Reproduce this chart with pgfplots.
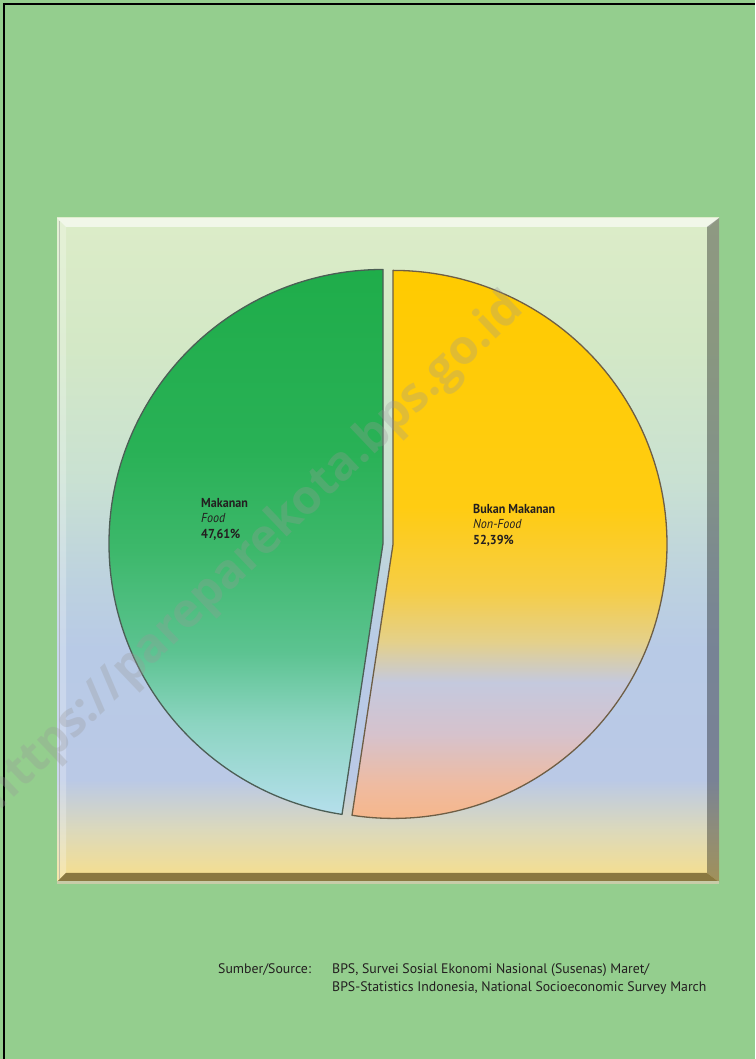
\documentclass[border=0pt]{standalone}
\usepackage{pgfplots}
\pgfplotsset{compat=1.18}
\usepackage{pgfplotstable}
\usepackage{fontspec}
\setmainfont{PT Sans}
\newfontfamily\condfont[FakeStretch=0.93]{PT Sans}
\newfontfamily\wmfont{Open Sans}

\definecolor{bg}{HTML}{94CE8E}
\definecolor{txt}{HTML}{231F20}
\definecolor{bevbot}{HTML}{8A7840}
\definecolor{bevline}{HTML}{C8CCA8}
\definecolor{edgeG}{HTML}{4C5E55}
\definecolor{edgeY}{HTML}{6E5E45}
% panel gradient
\definecolor{p0}{HTML}{DCECC8}
\definecolor{p1}{HTML}{D3E8C6}
\definecolor{p2}{HTML}{C9E1D2}
\definecolor{p3}{HTML}{BDD2DF}
\definecolor{p4}{HTML}{B8CAE6}
\definecolor{p5}{HTML}{BAC9E6}
\definecolor{p6}{HTML}{DCD9BB}
\definecolor{p7}{HTML}{F8DF8A}
% green wedge
\definecolor{g0}{HTML}{1FAD4A}
\definecolor{g1}{HTML}{29B156}
\definecolor{g2}{HTML}{3DB86B}
\definecolor{g3}{HTML}{5CC391}
\definecolor{g4}{HTML}{8BD4C0}
\definecolor{g5}{HTML}{B5DFEC}
% yellow wedge
\definecolor{y0}{HTML}{FFCB00}
\definecolor{y1}{HTML}{FFCC12}
\definecolor{y2}{HTML}{F6CD45}
\definecolor{y3}{HTML}{E4D08A}
\definecolor{y4}{HTML}{C4C9DE}
\definecolor{y5}{HTML}{D6C2CC}
\definecolor{y6}{HTML}{EFBBA0}
\definecolor{y7}{HTML}{FAB47E}

\pgfdeclareverticalshading{panelgrad}{100bp}{color(0bp)=(p7); color(25bp)=(p7);
 color(28.9bp)=(p6); color(32.7bp)=(p5); color(42.5bp)=(p4); color(47.7bp)=(p3);
 color(55.3bp)=(p2); color(65.1bp)=(p1); color(75bp)=(p0); color(100bp)=(p0)}
\pgfdeclareverticalshading{greenpie}{100bp}{color(0bp)=(g5); color(25bp)=(g5);
 color(33.5bp)=(g4); color(39.9bp)=(g3); color(49.2bp)=(g2); color(58.4bp)=(g1);
 color(75bp)=(g0); color(100bp)=(g0)}
\pgfdeclareverticalshading{yellowpie}{100bp}{color(0bp)=(y7); color(25bp)=(y7);
 color(29.6bp)=(y6); color(34.1bp)=(y5); color(38.7bp)=(y4); color(42.3bp)=(y3);
 color(46.9bp)=(y2); color(54.2bp)=(y1); color(75bp)=(y0); color(100bp)=(y0)}

\pgfplotstableread{
label value
Makanan 47.61
BukanMakanan 52.39
}\piedata

\begin{document}
\begin{tikzpicture}
\pgfplotstablegetelem{0}{value}\of\piedata
\pgfmathsetmacro\valA{\pgfplotsretval}
\pgfplotstablegetelem{1}{value}\of\piedata
\pgfmathsetmacro\valB{\pgfplotsretval}
\pgfmathsetmacro\angA{90+3.6*\valA}
\pgfmathsetmacro\angB{\angA+3.6*\valB}
\begin{axis}[at={(0,0)}, anchor=south west, scale only axis,
  width=755pt, height=1059pt, xmin=0, xmax=755, ymin=0, ymax=1059,
  axis lines=none, clip=false]
% background
\fill[bg] (axis cs:0,0) rectangle (axis cs:755,1059);
\draw[black, line width=2pt] (axis cs:4,0) -- (axis cs:4,1055) -- (axis cs:755,1055);
% panel
\shade[shading=panelgrad] (axis cs:57,177) rectangle (axis cs:719,841);
\fill[white, opacity=0.6] (axis cs:57,841) -- (axis cs:719,841) -- (axis cs:709,832) -- (axis cs:66,832) -- cycle;
\fill[white, opacity=0.25] (axis cs:57,841) -- (axis cs:66,832) -- (axis cs:66,186) -- (axis cs:57,177) -- cycle;
\draw[black!40, opacity=0.5, line width=1pt] (axis cs:59,838) -- (axis cs:59,180);
\fill[black, opacity=0.35] (axis cs:719,841) -- (axis cs:707,832) -- (axis cs:707,186) -- (axis cs:719,177) -- cycle;
\fill[bevbot] (axis cs:57,177) -- (axis cs:66,186) -- (axis cs:707,186) -- (axis cs:719,177) -- cycle;
\fill[bevline] (axis cs:57,175) rectangle (axis cs:719,177.5);
% pie wedges (exploded)
\shade[shading=greenpie] (axis cs:383,515.5) -- ++(90:274pt) arc[start angle=90, end angle=\angA, radius=274pt] -- cycle;
\draw[edgeG, line width=1.3pt, line join=round] (axis cs:383,515.5) -- ++(90:274pt) arc[start angle=90, end angle=\angA, radius=274pt] -- cycle;
\shade[shading=yellowpie] (axis cs:393,514.6) -- ++(\angA:274pt) arc[start angle=\angA, end angle=\angB, radius=274pt] -- cycle;
\draw[edgeY, line width=1.3pt, line join=round] (axis cs:393,514.6) -- ++(\angA:274pt) arc[start angle=\angA, end angle=\angB, radius=274pt] -- cycle;
% watermark (clipped to the page)
\begin{scope}
\clip (axis cs:0,0) rectangle (axis cs:755,1059);
\node[overlay, rotate=43.6, text=black!40, opacity=0.3, inner sep=0pt,
  font=\wmfont\bfseries\fontsize{47.5}{47.5}\selectfont] at (axis cs:254,507) {https://pareparekota.bps.go.id};
\end{scope}
% labels
\node[anchor=north west, align=left, text=txt, inner sep=0pt,
  font=\condfont\fontsize{13}{15.5}\selectfont] at (axis cs:201,561)
  {\textbf{Makanan}\\ \textit{Food}\\ \textbf{47,61\%}};
\node[anchor=north west, align=left, text=txt, inner sep=0pt,
  font=\condfont\fontsize{13}{15.5}\selectfont] at (axis cs:473,555)
  {\textbf{Bukan Makanan}\\ \textit{Non-Food}\\ \textbf{52,39\%}};
% source
\node[anchor=north west, text=txt, inner sep=0pt, font=\fontsize{13.8}{18.5}\selectfont] at (axis cs:218,96) {Sumber/Source:};
\node[anchor=north west, align=left, text=txt, inner sep=0pt, font=\fontsize{13.8}{18.5}\selectfont] at (axis cs:332,96)
  {BPS, Survei Sosial Ekonomi Nasional (Susenas) Maret/\\BPS-Statistics Indonesia, National Socioeconomic Survey March};
\end{axis}
\pgfresetboundingbox
\useasboundingbox (0,0) rectangle (755pt,1059pt);
\end{tikzpicture}
\end{document}
